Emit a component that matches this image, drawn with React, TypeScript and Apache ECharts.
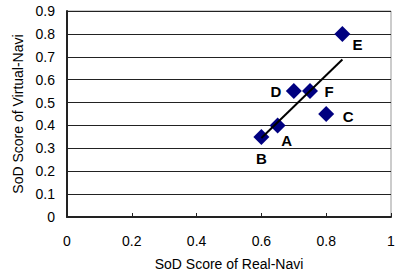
import React, { useEffect, useRef } from "react";
import * as echarts from "echarts";

const pointNames = ["A", "B", "C", "D", "E", "F"];
const realNavi = [0.65, 0.6, 0.8, 0.7, 0.85, 0.75];
const virtualNavi = [0.4, 0.35, 0.45, 0.55, 0.8, 0.55];
const trendX = [0.6, 0.85];
const trendY = [0.345, 0.688];
const xTicks = ["0", "0.2", "0.4", "0.6", "0.8", "1"];

const labelOffsets: Record<string, [number, number]> = {
  A: [9, 15],
  B: [0, 22],
  C: [22, 2],
  D: [-18, 0],
  E: [15, 11],
  F: [19, 0],
};

const FONT = "'Liberation Sans', Arial, sans-serif";

export default function App() {
  const ref = useRef<HTMLDivElement>(null);
  useEffect(() => {
    if (!ref.current) return;
    const chart = echarts.init(ref.current, undefined, { renderer: "svg" });
    chart.setOption({
      animation: false,
      backgroundColor: "#fff",
      grid: {
        left: 67,
        top: 11,
        right: 5,
        bottom: 59,
        show: true,
        borderColor: "#999",
        borderWidth: 1,
        containLabel: false,
        outerBoundsMode: "none",
      },
      xAxis: {
        type: "value",
        min: 0,
        max: 1,
        interval: 0.2,
        name: "SoD Score of Real-Navi",
        nameLocation: "middle",
        nameGap: 40,
        nameTextStyle: { fontFamily: FONT, fontSize: 14, color: "#000" },
        axisLine: { lineStyle: { color: "#222", width: 2 } },
        axisTick: { inside: true, length: 4, lineStyle: { color: "#222" } },
        axisLabel: {
          fontFamily: FONT,
          fontSize: 14,
          color: "#000",
          margin: 17,
          formatter: (v: number) => {
            const i = Math.round(v / 0.2);
            return xTicks[i] ?? "";
          },
        },
        splitLine: { show: false },
      },
      yAxis: {
        type: "value",
        min: 0,
        max: 0.9,
        interval: 0.1,
        name: "SoD Score of Virtual-Navi",
        nameLocation: "middle",
        nameGap: 41,
        nameTextStyle: { fontFamily: FONT, fontSize: 14, color: "#000" },
        axisLine: { show: true, lineStyle: { color: "#222", width: 2 } },
        axisTick: { show: false },
        axisLabel: {
          fontFamily: FONT,
          fontSize: 14,
          color: "#000",
          margin: 12,
          formatter: (v: number) => (Math.round(v * 10) / 10).toString(),
        },
        splitLine: { show: true, lineStyle: { color: "#222", width: 1 } },
      },
      series: [
        {
          type: "line",
          data: trendX.map((x, i) => [x, trendY[i]]),
          symbol: "none",
          lineStyle: { color: "#000", width: 2 },
          z: 3,
        },
        {
          type: "scatter",
          symbol: "diamond",
          symbolSize: 16,
          itemStyle: { color: "#000080", opacity: 1 },
          z: 2,
          data: pointNames.map((n, i) => ({
            name: n,
            value: [realNavi[i], virtualNavi[i]],
            label: {
              show: true,
              position: "inside",
              offset: labelOffsets[n],
              formatter: n,
              fontFamily: FONT,
              fontSize: 15,
              fontWeight: "bold",
              color: "#000",
            },
          })),
        },
      ],
    });
    return () => chart.dispose();
  }, []);
  return <div ref={ref} style={{ width: 396, height: 276, position: "absolute", left: 0, top: 0 }} />;
}
